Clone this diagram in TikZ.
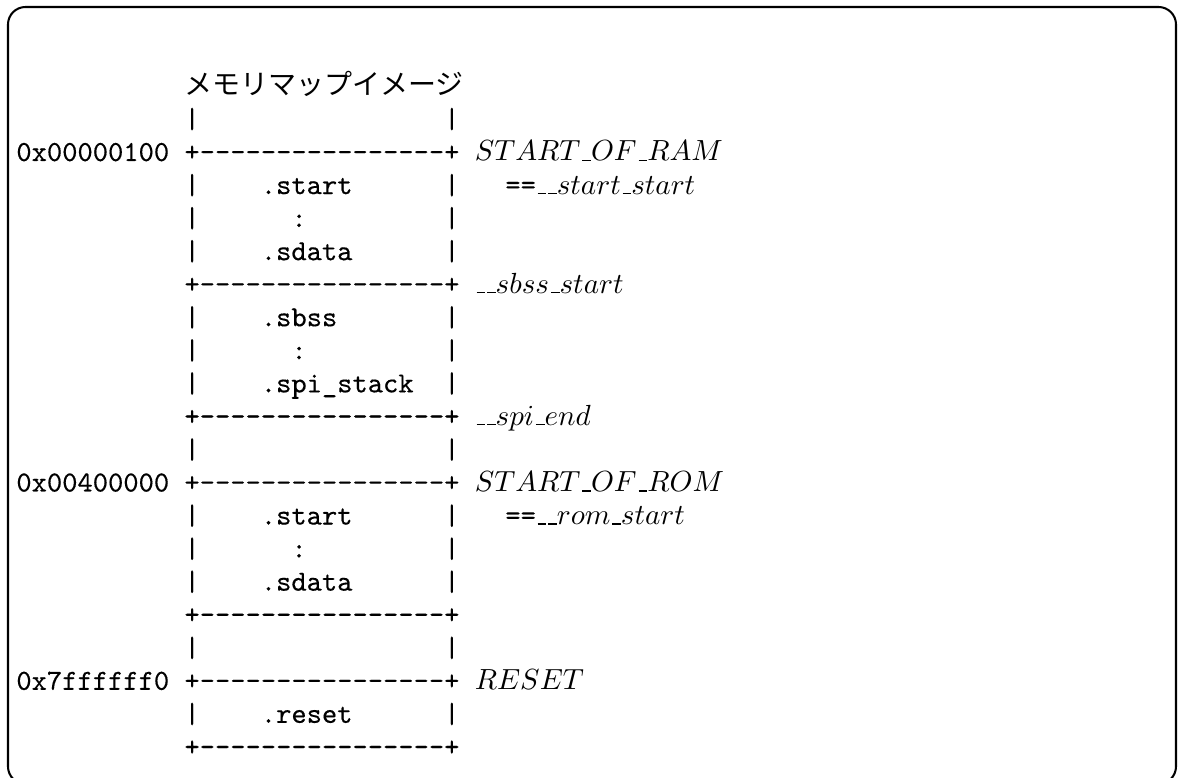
\documentclass[tikz,border=0pt]{standalone}
\usepackage{fontspec}
\setmonofont{lmmono10-regular.otf}[FakeBold=0.35]
\newfontfamily\jpfont{Noto Sans CJK JP}
\newcommand\usc{\mbox{\kern.06em\vbox{\hrule width.3em}}}
\newcommand\colx[1]{15.8+15.28*#1}
\newcommand\rowy[1]{94.9+33.05*#1}
\begin{document}
\begin{tikzpicture}[x=0.3436pt,y=-0.3436pt,
  tt/.style={anchor=base west, inner sep=0pt, font=\ttfamily\fontsize{10}{12}\selectfont},
  lbl/.style={anchor=base west, inner sep=0pt, font=\fontsize{10}{12}\selectfont},
  jp/.style={anchor=base west, inner sep=0pt, font=\jpfont\fontsize{9.62}{12}\selectfont},
  frame/.style={line width=0.7pt, rounded corners=6pt}]
\useasboundingbox (0,0) rectangle (1178,778);
\draw[frame] (8,7) rectangle (1176,784);
% title
\node[jp] (title) at ({\colx{11}},{\rowy{0}}) {メモリマップイメージ};
% side bars
\foreach \r in {1,3,4,5,7,8,9,11,13,14,15,17,19}{
  \node[tt] (bl\r) at ({\colx{11}},{\rowy{\r}}) {|};
  \node[tt] (br\r) at ({\colx{28}},{\rowy{\r}}) {|};
}
% separator lines
\foreach \r in {2,6,10,12,16,18,20}{
  \node[tt] (sep\r) at ({\colx{11}},{\rowy{\r}}) {+----------------+};
}
% addresses
\node[tt] (a1) at ({\colx{0}},{\rowy{2}}) {0x00000100};
\node[tt] (a2) at ({\colx{0}},{\rowy{12}}) {0x00400000};
\node[tt] (a3) at ({\colx{0}},{\rowy{18}}) {0x7ffffff0};
% contents
\node[tt] (c3) at ({\colx{16}},{\rowy{3}}) {.start};
\node[tt] (c4) at ({\colx{18}},{\rowy{4}}) {:};
\node[tt] (c5) at ({\colx{16}},{\rowy{5}}) {.sdata};
\node[tt] (c7) at ({\colx{16}},{\rowy{7}}) {.sbss};
\node[tt] (c8) at ({\colx{18}},{\rowy{8}}) {:};
\node[tt] (c9) at ({\colx{16}},{\rowy{9}}) {.spi\_stack};
\node[tt] (c13) at ({\colx{16}},{\rowy{13}}) {.start};
\node[tt] (c14) at ({\colx{18}},{\rowy{14}}) {:};
\node[tt] (c15) at ({\colx{16}},{\rowy{15}}) {.sdata};
\node[tt] (c19) at ({\colx{16}},{\rowy{19}}) {.reset};
% labels
\node[lbl] (l2) at ({\colx{30}},{\rowy{2}}) {$START\usc OF\usc RAM$};
\node[lbl] (l3) at ({\colx{32}},{\rowy{3}}) {\texttt{==}$\usc\usc start\usc start$};
\node[lbl] (l6) at ({\colx{30}},{\rowy{6}}) {$\usc\usc sbss\usc start$};
\node[lbl] (l10) at ({\colx{30}},{\rowy{10}}) {$\usc\usc spi\usc end$};
\node[lbl] (l12) at ({\colx{30}},{\rowy{12}}) {$START\usc OF\usc ROM$};
\node[lbl] (l13) at ({\colx{32}},{\rowy{13}}) {\texttt{==}$\usc\usc rom\usc start$};
\node[lbl] (l18) at ({\colx{30}},{\rowy{18}}) {$RESET$};
\end{tikzpicture}
\end{document}
